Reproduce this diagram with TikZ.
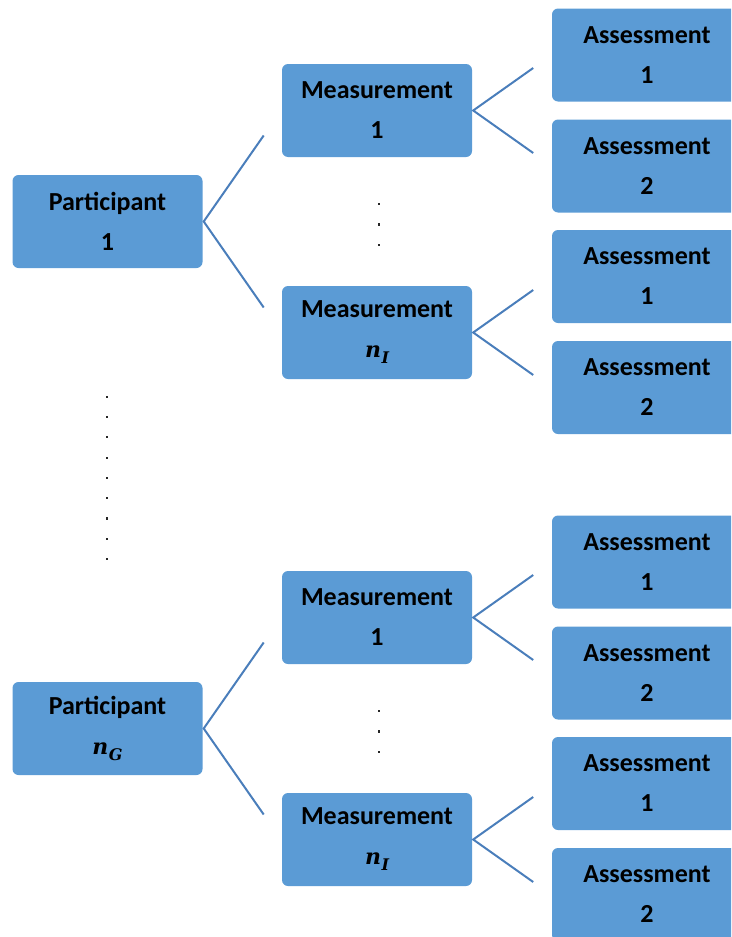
\documentclass[tikz,border=0pt]{standalone}
\usepackage{fontspec}
\setmainfont{Carlito}
\newfontfamily\mathlike{DejaVu Serif}
\usetikzlibrary{calc}
\definecolor{boxblue}{HTML}{5B9BD5}
\definecolor{lineblue}{HTML}{4A7EBB}
\newcommand{\bvar}[2]{{\mathlike\bfseries\itshape\fontsize{22}{40}\selectfont #1\kern0.5pt\raisebox{-6pt}{\fontsize{16}{16}\selectfont #2}}}
\tikzset{
  blk/.style={fill=boxblue, draw=none, rounded corners=6pt, minimum width=190pt, minimum height=93pt,
    inner sep=0pt, align=center, font=\fontsize{26}{40}\selectfont\bfseries},
  conn/.style={draw=lineblue, line width=2pt},
  dotmark/.style={fill=black!85, draw=none, minimum size=2.2pt, inner sep=0pt, rectangle}
}
\begin{document}
\begin{tikzpicture}[x=1pt,y=-1pt]
\useasboundingbox (0,0) rectangle (731,937);
\begin{scope}
\clip (0,0) rectangle (731,937);
% ---------- upper group ----------
\node[blk] (p1) at (107.5,221.5) {Participant\\1};
\node[blk] (m11) at (377,110.5) {Measurement\\1};
\node[blk] (m1n) at (377,332.5) {Measurement\\\bvar{n}{I}};
\node[blk] (a111) at (647,55) {Assessment\\1};
\node[blk] (a112) at (647,166) {Assessment\\2};
\node[blk] (a1n1) at (647,276.5) {Assessment\\1};
\node[blk] (a1n2) at (647,387.5) {Assessment\\2};
% ---------- lower group ----------
\node[blk] (p2) at (107.5,728.5) {Participant\\\bvar{n}{G}};
\node[blk] (m21) at (377,617.5) {Measurement\\1};
\node[blk] (m2n) at (377,839.5) {Measurement\\\bvar{n}{I}};
\node[blk] (a211) at (647,562) {Assessment\\1};
\node[blk] (a212) at (647,673) {Assessment\\2};
\node[blk] (a2n1) at (647,783.5) {Assessment\\1};
\node[blk] (a2n2) at (647,894.5) {Assessment\\2};
\end{scope}
% ---------- connector end points ----------
\foreach \p in {p1,p2}{
  \coordinate (\p u) at ($(\p.east)+(61,-86)$);
  \coordinate (\p d) at ($(\p.east)+(61,86)$);
  \draw[conn] (\p u) -- ([xshift=1pt]\p.east) -- (\p d);
}
\foreach \m in {m11,m1n,m21,m2n}{
  \coordinate (\m u) at ($(\m.east)+(61,-42.5)$);
  \coordinate (\m d) at ($(\m.east)+(61,42.5)$);
  \draw[conn] (\m u) -- ([xshift=1pt]\m.east) -- (\m d);
}
% ---------- dots ----------
\foreach \y in {204,224.5,245}{
  \node[dotmark] (dt\y) at (379,\y) {};
  \node[dotmark] (db\y) at (379,\y+507) {};
}
\foreach \i in {0,...,8}{
  \node[dotmark] (dp\i) at (107,396.7+20.3*\i) {};
}
\end{tikzpicture}
\end{document}
